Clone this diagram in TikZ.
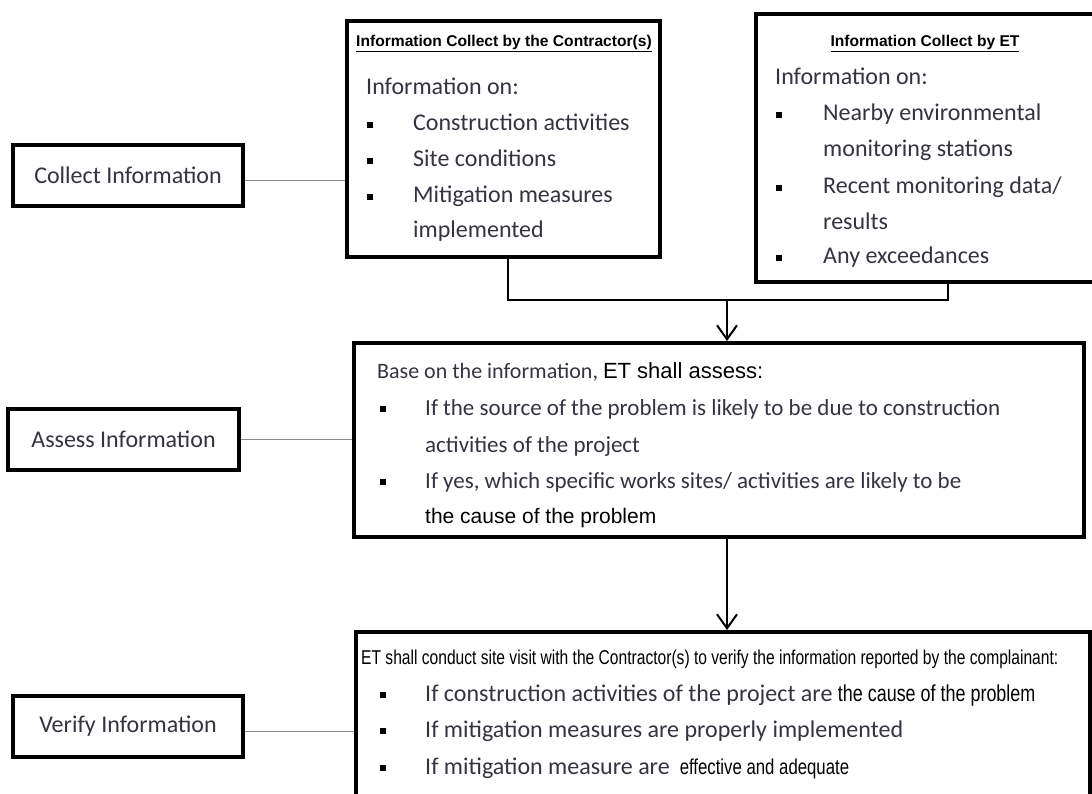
\documentclass[tikz,border=0pt]{standalone}
\usepackage{fontspec}
\setmainfont{Carlito}
\newfontfamily\arialf{Liberation Sans}
\newfontfamily\narrowf[FakeStretch=0.78]{Liberation Sans}
\usetikzlibrary{arrows.meta}
\definecolor{txtc}{RGB}{52,52,64}
\definecolor{linkc}{RGB}{140,140,140}
\begin{document}
\begin{tikzpicture}[x=1pt,y=-1pt,
  box/.style={draw, line width=4pt, rectangle, inner sep=0pt},
  lbl/.style={font=\fontsize{24}{29}\selectfont, text=txtc, anchor=base west, inner sep=0pt},
  albl/.style={font=\fontsize{23}{28}\selectfont, text=txtc, anchor=base west, inner sep=0pt},
  side/.style={font=\fontsize{24}{29}\selectfont, text=txtc, inner sep=0pt},
  head/.style={font=\arialf\bfseries\fontsize{15.6}{18}\selectfont, anchor=base, inner sep=0pt},
  nar/.style={font=\narrowf\fontsize{20}{24}\selectfont, anchor=base west, inner sep=0pt},
  bul/.style={fill=black, minimum size=5.5pt, inner sep=0pt},
  link/.style={draw=linkc, line width=1.5pt},
  conn/.style={draw=black, line width=2.5pt},
  arr/.style={conn, -{Straight Barb[length=14pt,width=20pt,line width=2pt]}}
]
\useasboundingbox (0,0) rectangle (1092,794);
\fill[white] (0,0) rectangle (1092,794);

% left step boxes
\node[box, minimum width=230pt, minimum height=61pt] (collect) at (128,175.5) {};
\node[side] (collectT) at (collect.center) {Collect Information};
\node[box, minimum width=231pt, minimum height=61pt] (assess) at (123.5,439.5) {};
\node[side] (assessT) at (assess.center) {Assess Information};
\node[box, minimum width=230pt, minimum height=61pt] (verify) at (128,726.5) {};
\node[side] (verifyT) at (verify.center) {Verify Information};

% contractor box
\node[box, minimum width=313pt, minimum height=236pt] (contr) at (503,139) {};
\node[head] (contrH) at (504,47) {\underline{Information Collect by the Contractor(s)}};
\node[lbl] (c0) at (366,95) {Information on:};
\node[bul] (cb1) at (370,125) {};
\node[lbl] (c1) at (413,131) {Construction activities};
\node[bul] (cb2) at (370,161) {};
\node[lbl] (c2) at (413,167) {Site conditions};
\node[bul] (cb3) at (370,197) {};
\node[lbl] (c3) at (413,203) {Mitigation measures};
\node[lbl] (c4) at (413,238) {implemented};

% ET box
\node[box, minimum width=350pt, minimum height=268pt] (et) at (931,148) {};
\node[head] (etH) at (925,47) {\underline{Information Collect by ET}};
\node[lbl] (e0) at (775,85) {Information on:};
\node[bul] (eb1) at (779,115) {};
\node[lbl] (e1) at (823,121) {Nearby environmental};
\node[lbl] (e2) at (823,157) {monitoring stations};
\node[bul] (eb2) at (779,188) {};
\node[lbl] (e3) at (823,194) {Recent monitoring data/};
\node[lbl] (e4) at (823,230) {results};
\node[bul] (eb3) at (779,258) {};
\node[lbl] (e5) at (823,264) {Any exceedances};

% assess box
\node[box, minimum width=730pt, minimum height=194pt] (abox) at (719,440) {};
\node[albl, font=\fontsize{22}{27}\selectfont] (a0) at (377,378) {Base on the information, {\color{black}\arialf\fontsize{22}{26}\selectfont ET shall assess:}};
\node[bul] (ab1) at (383,409) {};
\node[albl] (a1) at (425,415) {If the source of the problem is likely to be due to construction};
\node[albl] (a2) at (425,452) {activities of the project};
\node[bul] (ab2) at (383,482) {};
\node[albl] (a3) at (425,488) {If yes, which specific works sites/ activities are likely to be};
\node[nar, font=\arialf\fontsize{21}{25}\selectfont] (a4) at (425,523) {the cause of the problem};

% verify box
\node[box, minimum width=734pt, minimum height=190pt] (vbox) at (723,727) {};
\node[nar] (v0) at (361,664) {ET shall conduct site visit with the Contractor(s) to verify the information reported by the complainant:};
\node[bul] (vb1) at (383,695) {};
\node[lbl] (v1) at (425,701) {If construction activities of the project are {\color{black}\narrowf\fontsize{23}{27}\selectfont the cause of the problem}};
\node[bul] (vb2) at (383,731) {};
\node[lbl] (v2) at (425,737) {If mitigation measures are properly implemented};
\node[bul] (vb3) at (383,768) {};
\node[lbl] (v3) at (425,774) {If mitigation measure are\hspace{10pt}{\color{black}\narrowf\fontsize{21.5}{25}\selectfont effective and adequate}};

% links from step boxes
\draw[link] ([yshift=-5pt]collect.east) -- ([yshift=-5pt]collect.east -| contr.west);
\draw[link] (assess.east) -- (assess.east -| abox.west);
\draw[link] ([yshift=-5pt]verify.east) -- ([yshift=-5pt]verify.east -| vbox.west);

% merge connector and arrows
\coordinate (jl) at (508,300);
\coordinate (jr) at (948,300);
\coordinate (jm) at (727,300);
\draw[conn] (contr.south -| jl) -- (jl) -- (jr) -- (et.south -| jr);
\draw[arr] (jm) -- (abox.north -| jm);
\draw[arr] (abox.south -| jm) -- (vbox.north -| jm);
\end{tikzpicture}
\end{document}
